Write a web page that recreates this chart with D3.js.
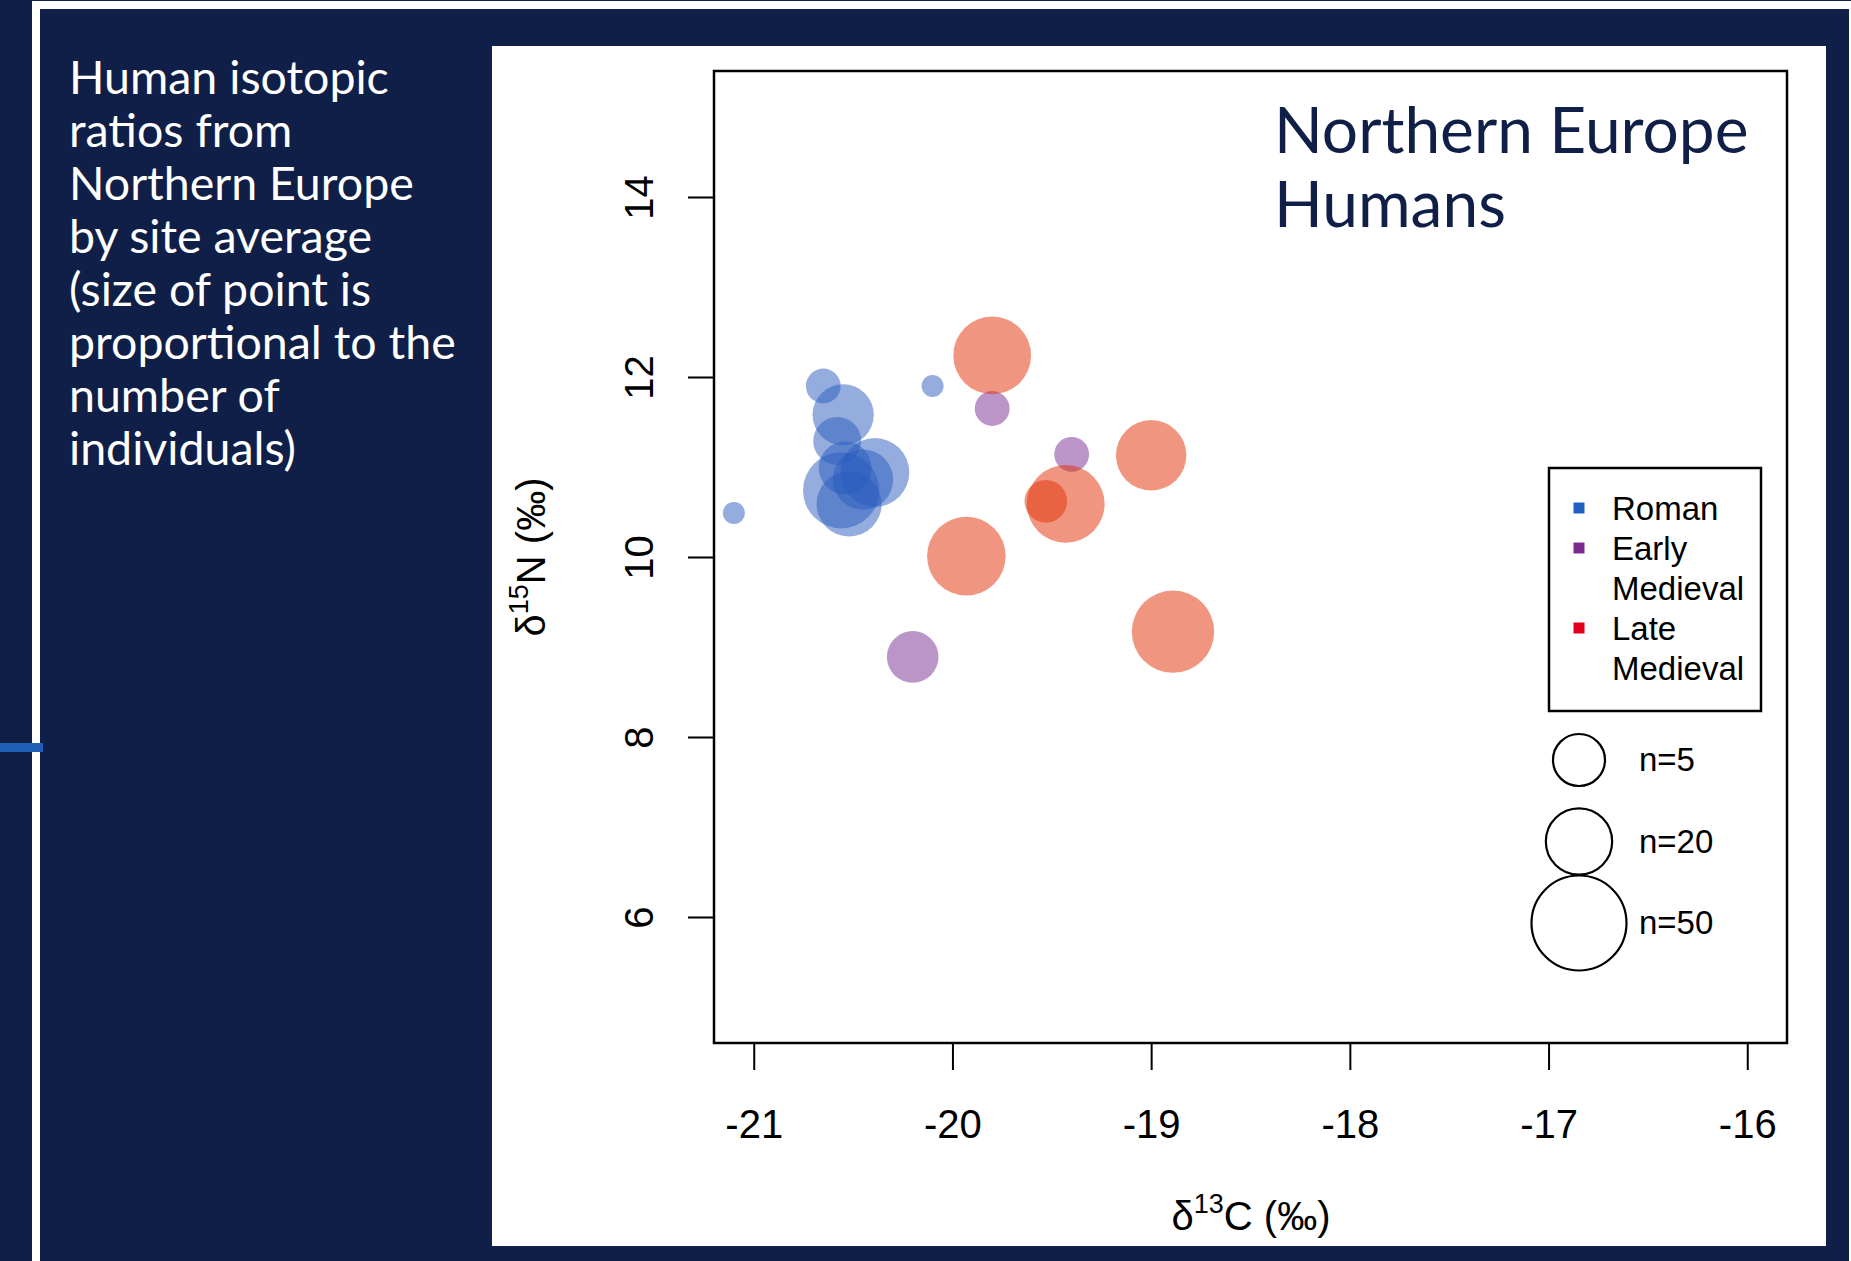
<!DOCTYPE html>
<html>
<head>
<meta charset="utf-8">
<script src="https://cdn.jsdelivr.net/npm/d3@7"></script>
<style>
  body { margin: 0; background: #101f47; }
  svg { display: block; }
</style>
</head>
<body>
<svg id="chart" width="1851" height="1261"></svg>
<script>
const navy = "#101f47";

const periods = ["Roman", "Early Medieval", "Late Medieval"];
const periodColors = ["#2a5bbd", "#772991", "#e12d02"];
const keyColors = ["#1f5fbf", "#7b2a8e", "#e0001b"];

const romanC = [-21.10, -20.65, -20.55, -20.58, -20.54, -20.56, -20.52, -20.39, -20.45, -20.10];
const romanN = [10.49, 11.90, 11.58, 11.29, 10.99, 10.74, 10.59, 10.94, 10.86, 11.90];
const romanCount = [4, 10, 31, 19, 23, 48, 35, 39, 30, 4];

const earlyC = [-19.80, -19.40, -20.20];
const earlyN = [11.65, 11.14, 8.89];
const earlyCount = [10, 10, 22];

const lateC = [-19.80, -19.00, -19.43, -19.53, -19.93, -18.89];
const lateN = [12.24, 11.13, 10.59, 10.62, 10.01, 9.17];
const lateCount = [50, 41, 50, 15, 51, 56];

const xTicks = [-21, -20, -19, -18, -17, -16];
const yTicks = [6, 8, 10, 12, 14];
const sizeKeys = [5, 20, 50];

const noteLines = [
  "Human isotopic",
  "ratios from",
  "Northern Europe",
  "by site average",
  "(size of point is",
  "proportional to the",
  "number of",
  "individuals)"
];
const titleLines = ["Northern Europe", "Humans"];

const series = [
  { c: romanC, n: romanN, count: romanCount },
  { c: earlyC, n: earlyN, count: earlyCount },
  { c: lateC, n: lateN, count: lateCount }
];

const points = [];
series.forEach((s, i) => {
  s.c.forEach((v, j) => {
    points.push({ period: periods[i], c: v, n: s.n[j], count: s.count[j] });
  });
});

const svg = d3.select("#chart");

// slide background
svg.append("rect").attr("x", 32).attr("y", 1).attr("width", 1819).attr("height", 1260).attr("fill", "#fff");
svg.append("rect").attr("x", 40).attr("y", 9).attr("width", 1809).attr("height", 1252).attr("fill", navy);
svg.append("rect").attr("x", 0).attr("y", 743).attr("width", 43).attr("height", 9).attr("fill", "#1f5fb8");
svg.append("rect").attr("x", 492).attr("y", 46).attr("width", 1334).attr("height", 1200).attr("fill", "#fff");

svg.append("text")
  .attr("font-family", "Lato, sans-serif")
  .attr("font-size", 46.5)
  .attr("fill", "#fff")
  .selectAll("tspan")
  .data(noteLines)
  .enter()
  .append("tspan")
  .attr("x", 69)
  .attr("y", (d, i) => 94 + i * 53)
  .text(d => d);

// plot region
const box = { left: 714, right: 1787, top: 71, bottom: 1043 };

const x = d3.scaleLinear().domain([-21.2, -15.8]).range([box.left, box.right]);
const y = d3.scaleLinear().domain([4.6, 15.4]).range([box.bottom, box.top]);
const r = d3.scaleSqrt().domain([0, 50]).range([0, 38.9]);
const color = d3.scaleOrdinal().domain(periods).range(periodColors);
const keyColor = d3.scaleOrdinal().domain(periods).range(keyColors);

svg.append("g")
  .selectAll("circle")
  .data(points)
  .enter()
  .append("circle")
  .attr("cx", d => x(d.c))
  .attr("cy", d => y(d.n))
  .attr("r", d => r(d.count))
  .attr("fill", d => color(d.period))
  .attr("fill-opacity", 0.5);

svg.append("rect")
  .attr("x", box.left)
  .attr("y", box.top)
  .attr("width", box.right - box.left)
  .attr("height", box.bottom - box.top)
  .attr("fill", "none")
  .attr("stroke", "#000")
  .attr("stroke-width", 2.5);

const axisFont = "'Liberation Sans', Arial, sans-serif";

const xAxis = svg.append("g")
  .attr("transform", `translate(0,${box.bottom})`)
  .call(d3.axisBottom(x).tickValues(xTicks).tickSize(27).tickSizeOuter(0).tickPadding(40)
    .tickFormat(d => d));
xAxis.select(".domain").remove();
xAxis.selectAll("line").attr("stroke-width", 2);
xAxis.selectAll("text").attr("font-family", axisFont).attr("font-size", 40).attr("fill", "#000");

const yAxis = svg.append("g")
  .attr("transform", `translate(${box.left},0)`)
  .call(d3.axisLeft(y).tickValues(yTicks).tickSize(26).tickSizeOuter(0));
yAxis.select(".domain").remove();
yAxis.selectAll("line").attr("stroke-width", 2);
yAxis.selectAll("text")
  .attr("font-family", axisFont)
  .attr("font-size", 40)
  .attr("fill", "#000")
  .attr("x", null)
  .attr("dy", null)
  .attr("text-anchor", "middle")
  .attr("transform", "translate(-61,0) rotate(-90)");

// axis titles
const xTitle = svg.append("text")
  .attr("x", 1251)
  .attr("y", 1230)
  .attr("text-anchor", "middle")
  .attr("font-family", axisFont)
  .attr("font-size", 40);
xTitle.append("tspan").text("δ");
xTitle.append("tspan").attr("font-size", 27).attr("dy", -17).text("13");
xTitle.append("tspan").attr("dy", 17).text("C (‰)");

const yTitle = svg.append("text")
  .attr("transform", `translate(545,${(box.top + box.bottom) / 2}) rotate(-90)`)
  .attr("text-anchor", "middle")
  .attr("font-family", axisFont)
  .attr("font-size", 40);
yTitle.append("tspan").text("δ");
yTitle.append("tspan").attr("font-size", 27).attr("dy", -17).text("15");
yTitle.append("tspan").attr("dy", 17).text("N (‰)");

// title inside the plot
svg.append("text")
  .attr("font-family", "Lato, sans-serif")
  .attr("font-size", 64)
  .attr("fill", navy)
  .selectAll("tspan")
  .data(titleLines)
  .enter()
  .append("tspan")
  .attr("x", 1274)
  .attr("y", (d, i) => 153 + i * 74)
  .text(d => d);

// period legend
const legendFont = "'Liberation Sans', Arial, sans-serif";
const lineGap = 40;
svg.append("rect")
  .attr("x", 1549)
  .attr("y", 468)
  .attr("width", 212)
  .attr("height", 243)
  .attr("fill", "#fff")
  .attr("stroke", "#000")
  .attr("stroke-width", 2.5);

// each entry starts below the lines of the previous ones
const rowStart = [];
periods.reduce((acc, p) => {
  rowStart.push(acc);
  return acc + p.split(" ").length;
}, 0);

const legendRows = svg.append("g")
  .selectAll("g")
  .data(periods)
  .enter()
  .append("g")
  .attr("transform", (d, i) => `translate(1579,${520 + rowStart[i] * lineGap})`);

legendRows.append("rect")
  .attr("x", -5.5)
  .attr("y", -17.5)
  .attr("width", 11)
  .attr("height", 11)
  .attr("fill", d => keyColor(d));

legendRows.append("text")
  .attr("font-family", legendFont)
  .attr("font-size", 33)
  .attr("fill", "#000")
  .selectAll("tspan")
  .data(d => d.split(" "))
  .enter()
  .append("tspan")
  .attr("x", 33)
  .attr("y", (d, i) => i * lineGap)
  .text(d => d);

// size legend
const keyR = d3.scaleLinear().domain([5, 50]).range([26, 47.5]);
const keyY = d3.scalePoint().domain(sizeKeys).range([760, 923]);

const keys = svg.append("g")
  .selectAll("g")
  .data(sizeKeys)
  .enter()
  .append("g")
  .attr("transform", d => `translate(1579,${keyY(d)})`);

keys.append("circle")
  .attr("r", d => keyR(d))
  .attr("fill", "none")
  .attr("stroke", "#000")
  .attr("stroke-width", 2.2);

keys.append("text")
  .attr("x", 60)
  .attr("y", 11)
  .attr("font-family", legendFont)
  .attr("font-size", 33)
  .attr("fill", "#000")
  .text(d => "n=" + d);
</script>
</body>
</html>
